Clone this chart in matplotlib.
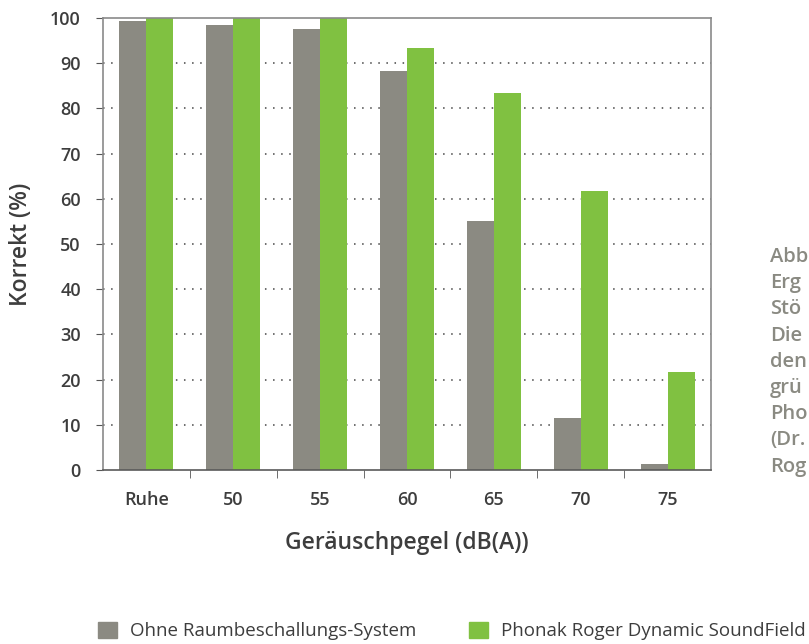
import numpy as np
import matplotlib.pyplot as plt
from matplotlib.patches import Patch

categories = ["Ruhe", "50", "55", "60", "65", "70", "75"]
ohne = [99.3, 98.5, 97.5, 88.2, 55.0, 11.6, 1.4]
roger = [100.0, 100.0, 100.0, 93.3, 83.3, 61.8, 21.6]
series_names = ["Ohne Raumbeschallungs-System", "Phonak Roger Dynamic SoundField"]
# side caption is cut off at the right edge in the original
side_text = ["Abb", "Erg", "Stö", "Die", "den", "grü", "Pho", "(Dr.", "Rog"]

GREY = "#8b8a82"
GREEN = "#80c141"
TXT = "#3d3d3d"

plt.rcParams["font.family"] = ["Open Sans", "DejaVu Sans"]

fig = plt.figure(figsize=(8.09, 6.44), dpi=100)
ax = fig.add_axes([0.1273, 0.2702, 0.7516, 0.7019])

x = np.arange(len(categories))
w = 0.31
ax.bar(x - w / 2, ohne, width=w, color=GREY, zorder=2)
ax.bar(x + w / 2, roger, width=w, color=GREEN, zorder=2)

ax.set_xlim(-0.5, len(categories) - 0.5)
ax.set_ylim(0, 100)
ax.set_yticks(range(0, 101, 10))
ax.set_xticks(x)
ax.set_xticklabels(categories)
ax.set_xticks(np.arange(0.5, len(categories) - 1, 1), minor=True)
ax.tick_params(axis="x", which="major", length=0, pad=15)
ax.tick_params(axis="x", which="minor", length=6, color="#555555", direction="out")
ax.tick_params(axis="y", length=5, color="#555555", direction="out", pad=11)
for lbl in ax.get_xticklabels() + ax.get_yticklabels():
    lbl.set_fontsize(13)
    lbl.set_fontweight("semibold")
    lbl.set_color(TXT)

for yv in range(10, 100, 10):
    ax.axhline(yv, color="#444444", linestyle=(0, (1, 4.3)), linewidth=1.1, zorder=1)

for s in ax.spines.values():
    s.set_color("#8a8a8a")
    s.set_linewidth(1.2)
ax.spines["bottom"].set_color("#5a5a5a")

fig.text(21 / 809, 1 - 244 / 644, "Korrekt (%)", rotation=90, ha="center", va="center",
         fontsize=16.5, fontweight="semibold", color=TXT)
ax.set_xlabel("Geräuschpegel (dB(A))", fontsize=16.5, fontweight="semibold", color=TXT,
              labelpad=16)

for name, col, lx in zip(series_names, [GREY, GREEN], [98, 469]):
    fig.legend([Patch(color=col)], [name], loc="center left",
               bbox_to_anchor=(lx / 809, 1 - 631 / 644), borderaxespad=0,
               borderpad=0, frameon=False, handlelength=1.0, handleheight=1.0,
               handletextpad=0.7, labelcolor=TXT, fontsize=13.5)

for i, t in enumerate(side_text):
    fig.text(770 / 809, 1 - (257 + i * 26.2) / 644, t, fontsize=14.5, fontweight="semibold",
             color="#8a8a82", va="center", ha="left")

fig.savefig("out.png", dpi=100)
